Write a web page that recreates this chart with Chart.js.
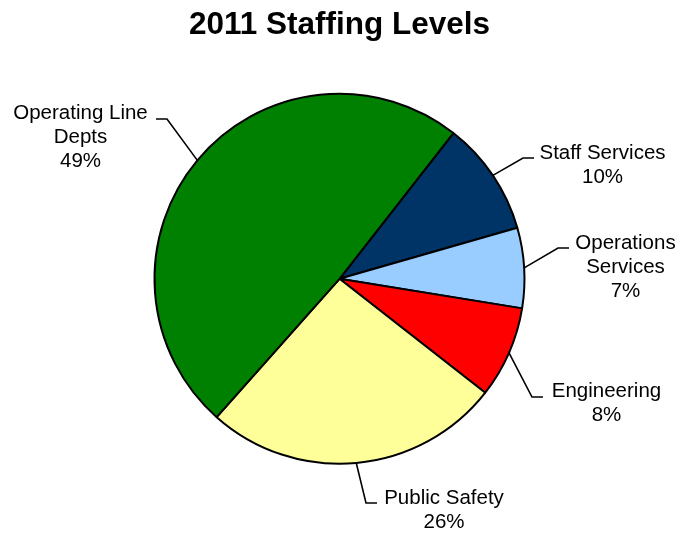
<!DOCTYPE html>
<html>
<head>
<meta charset="utf-8">
<title>2011 Staffing Levels</title>
<script src="https://cdn.jsdelivr.net/npm/chart.js@4.4.1/dist/chart.umd.min.js"></script>
<style>
  html, body { margin: 0; padding: 0; background: #ffffff; }
  #wrap { width: 682px; height: 533px; position: relative; }
</style>
</head>
<body>
<div id="wrap"><canvas id="staffing" width="682" height="533"></canvas></div>
<script>
// Share of 2011 staff by group, in percent
const categories = ['Staff Services', 'Operations Services', 'Engineering', 'Public Safety', 'Operating Line Depts'];
const shares = [10, 7, 8, 26, 49];

// How each category name wraps in its label
const labelLines = [['Staff Services'], ['Operations', 'Services'], ['Engineering'], ['Public Safety'], ['Operating Line', 'Depts']];
const sliceColors = ['#003366', '#99CCFF', '#FF0000', '#FFFF99', '#008000'];

// Label layout: elbow of the leader line, side the text sits on, text centre x, first baseline
const labelLayout = [
  { elbow: [523, 158], side: 1, cx: 602.5, base: 159 },
  { elbow: [558, 248], side: 1, cx: 625.5, base: 249 },
  { elbow: [532, 397], side: 1, cx: 606.5, base: 397 },
  { elbow: [366, 503], side: 1, cx: 444, base: 504 },
  { elbow: [167, 119], side: -1, cx: 80.5, base: 119 }
];

const FONT = '"Liberation Sans", Arial, Helvetica, sans-serif';

// Draws the outside labels with their bent leader lines
const leaderLabels = {
  id: 'leaderLabels',
  afterDatasetsDraw(chart) {
    const ctx = chart.ctx;
    const meta = chart.getDatasetMeta(0);
    const data = chart.data.datasets[0].data;
    const total = data.reduce((a, b) => a + b, 0);
    ctx.save();
    ctx.strokeStyle = '#000000';
    ctx.lineWidth = 1.6;
    ctx.fillStyle = '#000000';
    ctx.font = '20.5px ' + FONT;
    ctx.textAlign = 'center';
    ctx.textBaseline = 'alphabetic';
    meta.data.forEach((arc, i) => {
      const p = arc.getProps(['x', 'y', 'startAngle', 'endAngle', 'outerRadius'], true);
      const mid = (p.startAngle + p.endAngle) / 2;
      const ax = p.x + Math.cos(mid) * p.outerRadius;
      const ay = p.y + Math.sin(mid) * p.outerRadius;
      const lay = labelLayout[i];
      const ex = lay.elbow[0], ey = lay.elbow[1];
      ctx.beginPath();
      ctx.moveTo(ax, ay);
      ctx.lineTo(ex, ey);
      ctx.lineTo(ex + lay.side * 11, ey);
      ctx.stroke();
      const pct = Math.round(data[i] / total * 100) + '%';
      const lines = labelLines[i].concat([pct]);
      lines.forEach((t, k) => ctx.fillText(t, lay.cx, lay.base + k * 24));
    });
    ctx.restore();
  }
};

new Chart(document.getElementById('staffing'), {
  type: 'pie',
  data: {
    labels: categories,
    datasets: [{
      data: shares,
      backgroundColor: sliceColors,
      borderColor: '#000000',
      borderWidth: 2
    }]
  },
  options: {
    responsive: false,
    animation: false,
    rotation: 38,
    radius: 185,
    layout: { padding: { left: 0, right: 3, top: 0, bottom: 19.2 } },
    plugins: {
      legend: { display: false },
      tooltip: { enabled: false },
      title: {
        display: true,
        text: '2011 Staffing Levels',
        color: '#000000',
        font: { family: FONT, size: 31.5, weight: 'bold', lineHeight: 1.2 },
        padding: { top: 6, bottom: 0 }
      }
    }
  },
  plugins: [leaderLabels]
});
</script>
</body>
</html>
